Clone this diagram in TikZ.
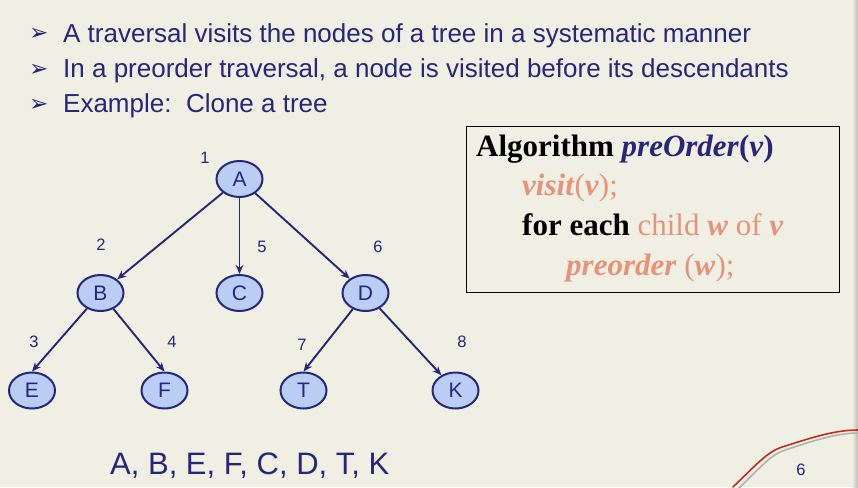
\documentclass[tikz,border=0pt]{standalone}
\usepackage{fontspec}
\setmainfont{Liberation Sans}
\newfontfamily\algfont{Liberation Serif}
\newfontfamily\symfont{DejaVu Sans}
\usetikzlibrary{arrows.meta,shapes.geometric}

\definecolor{paper}{RGB}{240,239,228}
\definecolor{ink}{RGB}{38,38,122}
\definecolor{nodefill}{RGB}{186,206,245}
\definecolor{salmon}{RGB}{232,146,120}
\definecolor{pen}{RGB}{190,45,25}

\tikzset{
  treenode/.style={ellipse, draw=ink, line width=2pt, fill=nodefill,
    minimum width=46pt, minimum height=36pt, inner sep=0pt, text=ink,
    font=\fontsize{21}{24}\selectfont},
  order/.style={text=ink, font=\fontsize{16.5}{19}\selectfont, inner sep=0pt},
  edge/.style={draw=ink, line width=1.9pt, -{Stealth[length=9pt,width=7.5pt]}},
  bulletline/.style={anchor=base west, text=ink, inner sep=0pt,
    font=\fontsize{26}{30}\selectfont},
  bulletmark/.style={anchor=base west, text=ink, inner sep=0pt,
    font=\symfont\fontsize{23}{26}\selectfont},
  algline/.style={anchor=base west, inner sep=0pt,
    font=\algfont\fontsize{31}{36}\selectfont}
}

\begin{document}
\begin{tikzpicture}[x=1pt,y=-1pt]
  % page
  \useasboundingbox (0,0) rectangle (858,487);
  \fill[paper] (0,0) rectangle (858,487);
  \shade[left color=paper, right color=gray!55] (852,0) rectangle (858,487);

  % bullet points
  \node[bulletmark] (m1) at (29,41) {➢};
  \node[bulletmark] (m2) at (29,76) {➢};
  \node[bulletmark] (m3) at (29,111) {➢};
  \node[bulletline] (l1) at (63,42) {A traversal visits the nodes of a tree in a systematic manner};
  \node[bulletline] (l2) at (63,77) {In a preorder traversal, a node is visited before its descendants};
  \node[bulletline] (l3) at (63,112) {Example:\ \ Clone a tree};

  % tree
  \node[treenode] (A) at (239.5,179) {A};
  \node[treenode] (B) at (100.5,293) {B};
  \node[treenode] (C) at (239.5,293) {C};
  \node[treenode] (D) at (365.5,293) {D};
  \node[treenode] (E) at (32,390.5) {E};
  \node[treenode] (F) at (164.5,390.5) {F};
  \node[treenode] (T) at (303.5,390.5) {T};
  \node[treenode] (K) at (455.5,390.5) {K};

  \draw[edge] (A) -- (B);
  \draw[edge] (A) -- (C.north);
  \draw[edge] (A) -- (D);
  \draw[edge] (B) -- (E.north);
  \draw[edge] (B) -- (F.north);
  \draw[edge] (D) -- (T.north);
  \draw[edge] (D) -- (K);

  % visiting order
  \node[order] (n1) at (205,158) {1};
  \node[order] (n2) at (101,245) {2};
  \node[order] (n5) at (262,247) {5};
  \node[order] (n6) at (378,247) {6};
  \node[order] (n3) at (34,342) {3};
  \node[order] (n4) at (172,342) {4};
  \node[order] (n7) at (302,345) {7};
  \node[order] (n8) at (462,342) {8};

  % resulting sequence
  \node[anchor=base west, text=ink, inner sep=0pt, font=\fontsize{31}{36}\selectfont]
    (seq) at (110,474) {A, B, E, F, C, D, T, K};

  % algorithm box
  \draw[black, line width=0.9pt] (466,126) rectangle (839,292);
  \node[algline] (a1) at (476,156) {\textbf{Algorithm} \textcolor{ink}{\textbf{\textit{preOrder}}\textbf{(\textit{v})}}};
  \node[algline, text=salmon] (a2) at (522,195) {\textbf{\textit{visit}}(\textbf{\textit{v}});};
  \node[algline, text=salmon] (a3) at (522,235) {\textcolor{black}{\textbf{for each}} child \textbf{\textit{w}} of \textbf{\textit{v}}};
  \node[algline, text=salmon] (a4) at (566,275) {\textbf{\textit{preorder}} (\textbf{\textit{w}});};

  % pen stroke and page number
  \draw[gray!60, line width=1.6pt, line cap=round]
    (737,490) .. controls (760,468) and (770,455) .. (785,450)
    .. controls (810,442) and (835,433) .. (858,433);
  \draw[pen, line width=1.6pt, line cap=round]
    (733,487) .. controls (756,465) and (767,452) .. (782,447)
    .. controls (808,439) and (833,430) .. (858,430);
  \node[order] (pg) at (801,470) {6};
\end{tikzpicture}
\end{document}
